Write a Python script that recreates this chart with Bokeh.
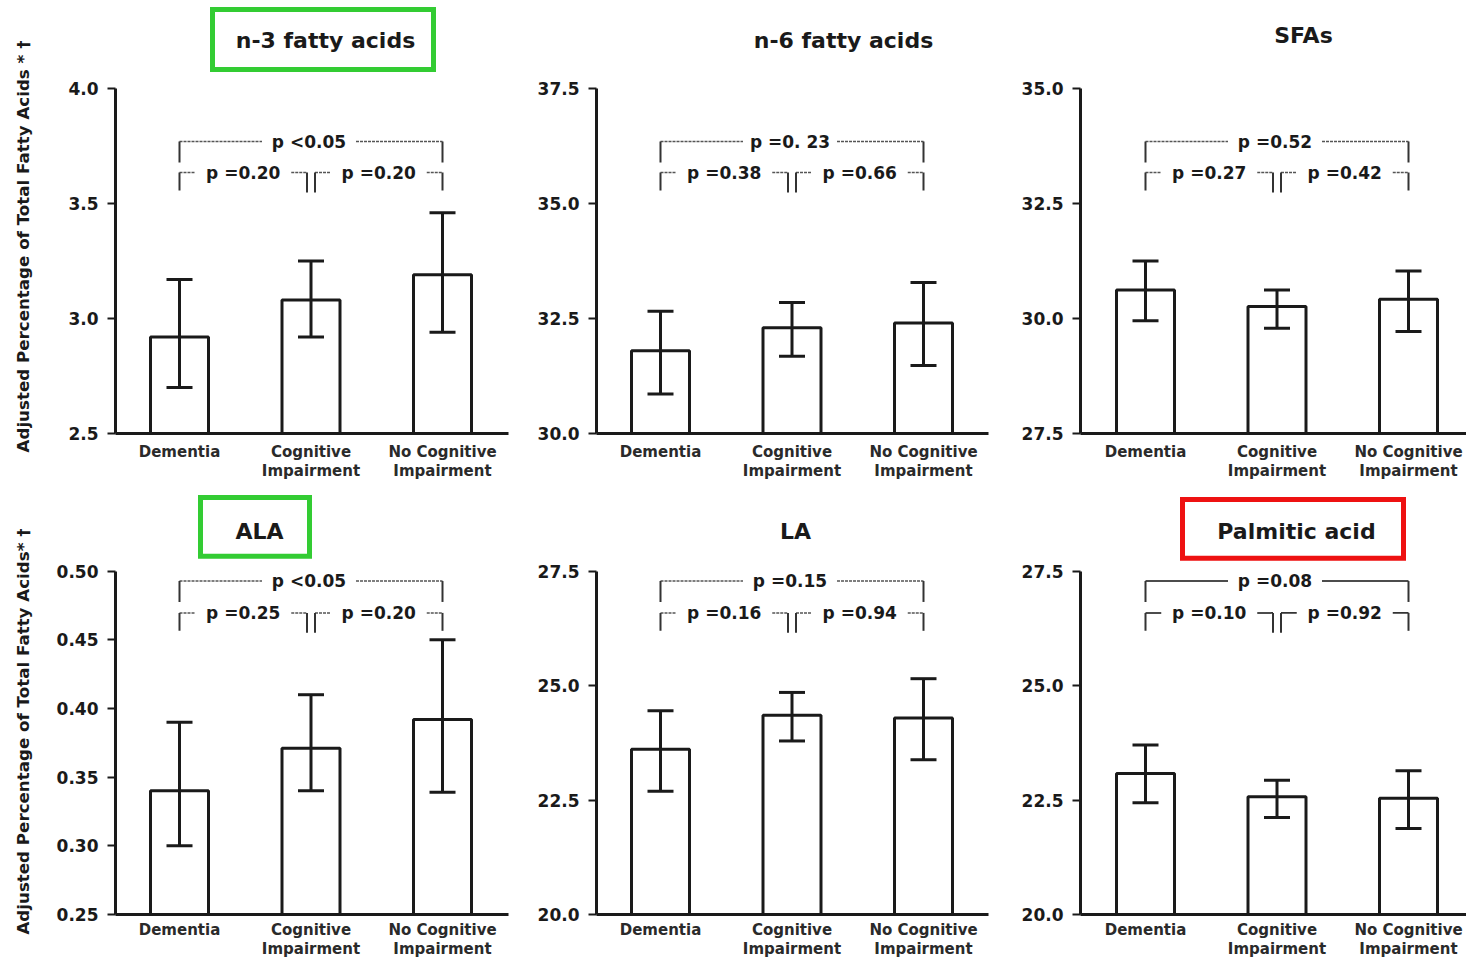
import math
from bokeh.plotting import figure
from bokeh.layouts import row, column
from bokeh.models import FixedTicker, Range1d, PrintfTickFormatter
from bokeh.core.properties import value
from bokeh.embed import file_html
from bokeh.resources import INLINE

# ---------------- data ----------------
categories = ["Dementia", "Cognitive\nImpairment", "No Cognitive\nImpairment"]
titles = ["n-3 fatty acids", "n-6 fatty acids", "SFAs", "ALA", "LA", "Palmitic acid"]

n3_mean = [2.92, 3.08, 3.19]
n3_low = [2.70, 2.92, 2.94]
n3_high = [3.17, 3.25, 3.46]

n6_mean = [31.80, 32.30, 32.40]
n6_low = [30.86, 31.68, 31.48]
n6_high = [32.66, 32.85, 33.28]

sfa_mean = [30.62, 30.26, 30.42]
sfa_low = [29.95, 29.79, 29.72]
sfa_high = [31.25, 30.62, 31.03]

ala_mean = [0.340, 0.371, 0.392]
ala_low = [0.300, 0.340, 0.339]
ala_high = [0.390, 0.410, 0.450]

la_mean = [23.61, 24.35, 24.29]
la_low = [22.69, 23.79, 23.38]
la_high = [24.45, 24.85, 25.15]

pa_mean = [23.08, 22.57, 22.54]
pa_low = [22.44, 22.12, 21.88]
pa_high = [23.70, 22.93, 23.14]

n3_ticks = [2.5, 3.0, 3.5, 4.0]
n6_ticks = [30.0, 32.5, 35.0, 37.5]
sfa_ticks = [27.5, 30.0, 32.5, 35.0]
ala_ticks = [0.25, 0.30, 0.35, 0.40, 0.45, 0.50]
la_ticks = [20.0, 22.5, 25.0, 27.5]
pa_ticks = [20.0, 22.5, 25.0, 27.5]

# p-values: [overall (Dementia vs No CI), Dementia vs CI, CI vs No CI]
n3_p = ["p <0.05", "p =0.20", "p =0.20"]
n6_p = ["p =0. 23", "p =0.38", "p =0.66"]
sfa_p = ["p =0.52", "p =0.27", "p =0.42"]
ala_p = ["p <0.05", "p =0.25", "p =0.20"]
la_p = ["p =0.15", "p =0.16", "p =0.94"]
pa_p = ["p =0.08", "p =0.10", "p =0.92"]

ylabel_top = "Adjusted Percentage of Total Fatty Acids * \u2020"
ylabel_bottom = "Adjusted Percentage of Total Fatty Acids* \u2020"

# ---------------- layout / style constants ----------------
FONT = value("DejaVu Sans")
INK = "#1a1a1a"
XS = 131.5           # px per category step
BAR_W = 58 / XS
CAP = 13 / XS
LABEL_W = 40         # width of the strip that carries the rotated y-axis title

COLS = [dict(w=515 - LABEL_W, left=115 - LABEL_W, c0=64, xend=393),
        dict(w=480, left=81, c0=64, xend=392),
        dict(w=471, left=85, c0=65, xend=None)]
ROWS = [dict(h=482, fh=433, top=88, br_top=141, br_low=172, xstd=9, lab_x=22, lab_y=246),
        dict(h=478, fh=434, top=89, br_top=99, br_low=131, xstd=6, lab_x=22, lab_y=249)]

panels = [
    dict(mean=n3_mean, low=n3_low, high=n3_high, ticks=n3_ticks, fmt="%.1f", p=n3_p,
         tx=210, ty=40, box=(97, 318, 9, 69), box_color="#33cc33", dashed=True),
    dict(mean=n6_mean, low=n6_low, high=n6_high, ticks=n6_ticks, fmt="%.1f", p=n6_p,
         tx=247, ty=40, box=None, box_color=None, dashed=True),
    dict(mean=sfa_mean, low=sfa_low, high=sfa_high, ticks=sfa_ticks, fmt="%.1f", p=sfa_p,
         tx=223, ty=35, box=None, box_color=None, dashed=True),
    dict(mean=ala_mean, low=ala_low, high=ala_high, ticks=ala_ticks, fmt="%.2f", p=ala_p,
         tx=144, ty=49, box=(85, 194, 15, 74), box_color="#33cc33", dashed=True),
    dict(mean=la_mean, low=la_low, high=la_high, ticks=la_ticks, fmt="%.1f", p=la_p,
         tx=199, ty=49, box=None, box_color=None, dashed=True),
    dict(mean=pa_mean, low=pa_low, high=pa_high, ticks=pa_ticks, fmt="%.1f", p=pa_p,
         tx=216, ty=49, box=(102, 323, 17, 76), box_color="#ee1111", dashed=False),
]


def label_strip(r, text):
    rw = ROWS[r]
    h = rw["h"]
    p = figure(width=LABEL_W, height=h, x_range=Range1d(0, LABEL_W),
               y_range=Range1d(0, h), output_backend="svg", toolbar_location=None,
               tools="", min_border=0, outline_line_color=None,
               background_fill_color="white", border_fill_color="white")
    p.axis.visible = False
    p.grid.visible = False
    p.text(x=[rw["lab_x"]], y=[h - rw["lab_y"]], text=[text], angle=math.pi / 2,
           text_align="center", text_baseline="middle", text_font=FONT,
           text_font_style="bold", text_font_size="16.7px", text_color=INK)
    return p


def build(idx):
    cfg = panels[idx]
    col = COLS[idx % 3]
    rw = ROWS[idx // 3]
    fw = col["w"] - col["left"]
    fh = rw["fh"]
    ymin, ymax = cfg["ticks"][0], cfg["ticks"][-1]
    ys = (fh - rw["top"]) / (ymax - ymin)
    x0 = -col["c0"] / XS
    x1 = x0 + fw / XS
    y1 = ymin + fh / ys

    def X(px):
        return x0 + px / XS

    def Y(py):
        return ymin + (fh - py) / ys

    p = figure(width=col["w"], height=rw["h"], x_range=Range1d(x0, x1), y_range=Range1d(ymin, y1),
               output_backend="svg", toolbar_location=None, tools="",
               min_border_left=col["left"], min_border_right=0, min_border_top=0,
               min_border_bottom=rw["h"] - fh, outline_line_color=None,
               background_fill_color="white", border_fill_color="white")
    p.xgrid.visible = False
    p.ygrid.visible = False

    xs = [0, 1, 2]
    p.vbar(x=xs, top=cfg["mean"], bottom=ymin, width=BAR_W, fill_color="white",
           line_color=INK, line_width=3)
    p.segment(x0=xs, y0=cfg["low"], x1=xs, y1=cfg["high"], line_color=INK, line_width=3)
    p.segment(x0=[x - CAP for x in xs], y0=cfg["high"], x1=[x + CAP for x in xs], y1=cfg["high"],
              line_color=INK, line_width=3)
    p.segment(x0=[x - CAP for x in xs], y0=cfg["low"], x1=[x + CAP for x in xs], y1=cfg["low"],
              line_color=INK, line_width=3)

    # significance brackets
    hcol = "#555555" if cfg["dashed"] else "#111111"
    hdash = "3 1" if cfg["dashed"] else "solid"
    yt, yl = Y(rw["br_top"]), Y(rw["br_low"])
    ytd, yld, yli = Y(rw["br_top"] + 21), Y(rw["br_low"] + 18), Y(rw["br_low"] + 20)
    t_top = 1 - 2 / XS
    gap_t = 47 / XS
    l_end = 1 - 4 / XS
    r_start = 1 + 4 / XS
    l_mid = (0 + l_end) / 2
    r_mid = (r_start + 2) / 2
    gap_l = 48 / XS
    hx0 = [0, t_top + gap_t, 0, l_mid + gap_l, r_start, r_mid + gap_l]
    hx1 = [t_top - gap_t, 2, l_mid - gap_l, l_end, r_mid - gap_l, 2]
    hy = [yt, yt, yl, yl, yl, yl]
    p.segment(x0=hx0, y0=hy, x1=hx1, y1=hy, line_color=hcol, line_width=1.5, line_dash=hdash)
    vx = [0, 2, 0, l_end, r_start, 2]
    vy0 = [yt, yt, yl, yl, yl, yl]
    vy1 = [ytd, ytd, yld, yli, yli, yld]
    p.segment(x0=vx, y0=vy0, x1=vx, y1=vy1, line_color="#333333", line_width=2)
    p.text(x=[t_top, l_mid, r_mid], y=[yt, yl, yl], text=cfg["p"], text_align="center",
           text_baseline="middle", text_font=FONT, text_font_style="bold",
           text_font_size="17px", text_color=INK)

    # title (with optional highlight box)
    if cfg["box"] is not None:
        l, r, t, b = cfg["box"]
        p.quad(left=[X(l)], right=[X(r)], top=[Y(t)], bottom=[Y(b)], fill_color=None,
               line_color=cfg["box_color"], line_width=5, line_join="miter")
    p.text(x=[X(cfg["tx"])], y=[Y(cfg["ty"])], text=[titles[idx]], text_align="center",
           text_baseline="middle", text_font=FONT, text_font_style="bold",
           text_font_size="22px", text_color=INK)

    # axes
    xa = p.xaxis[0]
    xa.ticker = FixedTicker(ticks=xs)
    xa.major_label_overrides = {i: categories[i] for i in xs}
    xa.bounds = (x0, X(col["xend"]) if col["xend"] is not None else x1)
    xa.axis_line_width = 3
    xa.axis_line_color = INK
    xa.major_tick_out = 0
    xa.major_tick_in = 0
    xa.minor_tick_out = 0
    xa.minor_tick_in = 0
    xa.major_label_standoff = rw["xstd"]
    xa.major_label_text_font = "DejaVu Sans"
    xa.major_label_text_font_style = "bold"
    xa.major_label_text_font_size = "15px"
    xa.major_label_text_color = "#2a2a2a"
    xa.major_label_text_line_height = 1.08

    ya = p.yaxis[0]
    ya.ticker = FixedTicker(ticks=cfg["ticks"])
    ya.formatter = PrintfTickFormatter(format=cfg["fmt"])
    ya.bounds = (ymin, ymax)
    ya.axis_line_width = 3
    ya.axis_line_color = INK
    ya.major_tick_out = 8
    ya.major_tick_in = 0
    ya.major_tick_line_width = 2
    ya.major_tick_line_color = INK
    ya.minor_tick_out = 0
    ya.minor_tick_in = 0
    ya.major_label_standoff = 9
    ya.major_label_text_font = "DejaVu Sans"
    ya.major_label_text_font_style = "bold"
    ya.major_label_text_font_size = "17px"
    ya.major_label_text_color = INK
    return p


figs = [build(i) for i in range(6)]
strips = column(label_strip(0, ylabel_top), label_strip(1, ylabel_bottom))
charts = column(row(figs[0], figs[1], figs[2]), row(figs[3], figs[4], figs[5]))
layout = row(strips, charts)

open("out.html", "w").write(file_html(layout, INLINE))
